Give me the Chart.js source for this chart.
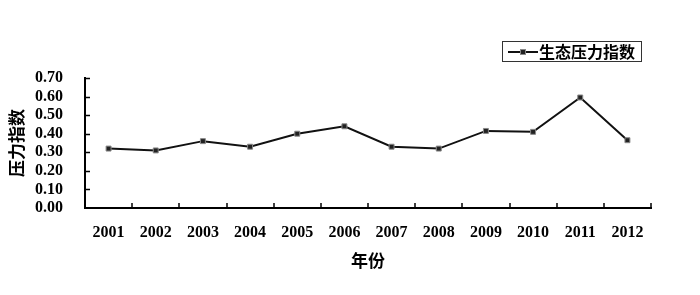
<!DOCTYPE html>
<html>
<head>
<meta charset="utf-8">
<script src="https://cdn.jsdelivr.net/npm/chart.js@4/dist/chart.umd.min.js"></script>
<style>
    body { margin: 0; background: #fff; }
    #wrap { position: relative; width: 700px; height: 295px; }
    #legend {
        position: absolute; left: 502px; top: 41px; width: 138px; height: 19px;
        border: 1px solid #333; font: bold 16px "Noto Sans CJK SC", sans-serif;
        line-height: 19px; color: #000; white-space: nowrap;
    }
    #legend .sample { position: absolute; left: 5px; top: 9px; width: 30px; border-top: 2px solid #111; }
    #legend .sample i { position: absolute; left: 12px; top: -4px; width: 4px; height: 4px; background: #222; border: 1px solid #888; }
    #legend .label { position: absolute; left: 36px; top: 0; }
</style>
</head>
<body>
<div id="wrap">
    <canvas id="pressureChart" width="700" height="295"></canvas>
    <div id="legend"><span class="sample"><i></i></span><span class="label">生态压力指数</span></div>
</div>
<script>
// 数据
const years = ['2001', '2002', '2003', '2004', '2005', '2006', '2007', '2008', '2009', '2010', '2011', '2012'];
const pressureIndex = [0.32, 0.31, 0.36, 0.33, 0.40, 0.44, 0.33, 0.32, 0.415, 0.41, 0.595, 0.365];
const yTicks = [0.0, 0.1, 0.2, 0.3, 0.4, 0.5, 0.6, 0.7];

const numFont = { family: '"Liberation Serif", "Times New Roman", serif', size: 16, weight: 'bold' };
const cjkFont = { family: '"Noto Sans CJK SC", sans-serif', size: 17, weight: 'bold' };

// ticks pointing into the plot area
const innerTicks = {
    id: 'innerTicks',
    afterDatasetsDraw(chart) {
        const ctx = chart.ctx;
        const x = chart.scales.x;
        const y = chart.scales.y;
        ctx.save();
        ctx.strokeStyle = '#000';
        ctx.lineWidth = 1.5;
        ctx.beginPath();
        yTicks.forEach(v => {
            if (v === 0) return;
            const py = Math.round(y.getPixelForValue(v)) + 0.5;
            ctx.moveTo(x.left, py);
            ctx.lineTo(x.left + 5, py);
        });
        for (let i = 1; i <= years.length; i++) {
            const px = i < years.length
                ? (x.getPixelForValue(i - 1) + x.getPixelForValue(i)) / 2
                : x.right;
            ctx.moveTo(Math.round(px), y.bottom);
            ctx.lineTo(Math.round(px), y.bottom - 5);
        }
        ctx.stroke();
        ctx.restore();
    }
};

new Chart(document.getElementById('pressureChart'), {
    type: 'line',
    data: {
        labels: years,
        datasets: [{
            label: '生态压力指数',
            data: pressureIndex,
            borderColor: '#111',
            borderWidth: 2,
            pointStyle: 'rect',
            pointRadius: 3.5,
            pointBackgroundColor: '#222',
            pointBorderColor: '#888',
            pointBorderWidth: 1,
            tension: 0,
            fill: false
        }]
    },
    options: {
        responsive: false,
        animation: false,
        layout: { padding: { top: 78, right: 49, left: 0, bottom: 0 } },
        plugins: { legend: { display: false }, tooltip: { enabled: false } },
        scales: {
            x: {
                offset: true,
                grid: { display: false, drawTicks: false },
                border: { display: true, color: '#000', width: 2 },
                ticks: { color: '#000', font: numFont, padding: 15, maxRotation: 0, autoSkip: false },
                title: { display: true, text: '年份', color: '#000', font: cjkFont, padding: { top: 0, bottom: 24 } },
                afterFit(scale) { scale.height = 87; }
            },
            y: {
                min: 0,
                max: 0.7,
                afterBuildTicks(scale) { scale.ticks = yTicks.map(v => ({ value: v })); },
                grid: { display: false, drawTicks: false },
                border: { display: true, color: '#000', width: 2 },
                ticks: {
                    color: '#000', font: numFont, padding: 22, autoSkip: false,
                    callback: v => Number(v).toFixed(2)
                },
                title: { display: true, text: '压力指数', color: '#000', font: cjkFont, padding: { top: 6, bottom: 0 } },
                afterFit(scale) { scale.width = 85; }
            }
        }
    },
    plugins: [innerTicks]
});
</script>
</body>
</html>
